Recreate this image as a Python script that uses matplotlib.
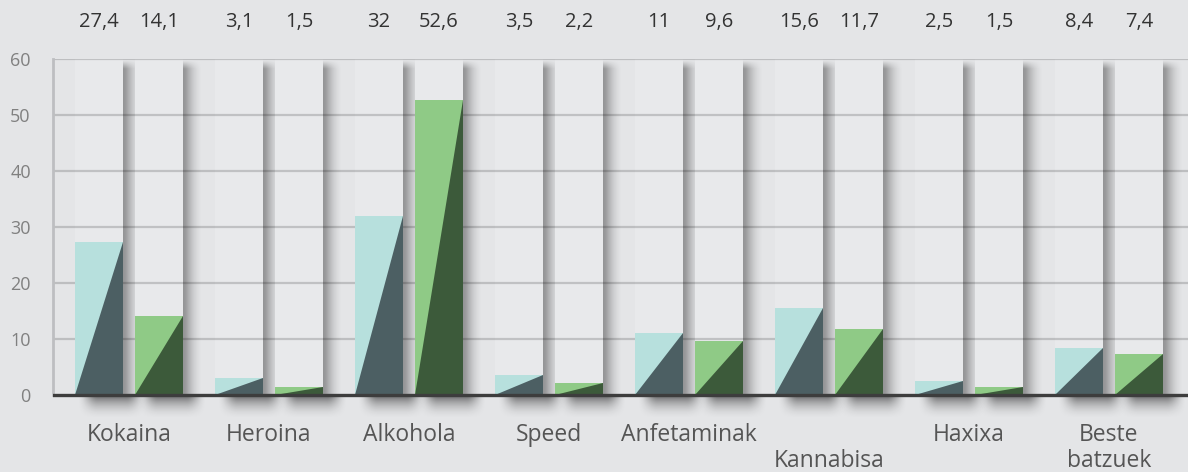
import matplotlib
matplotlib.use("Agg")
import matplotlib.pyplot as plt
import numpy as np
from matplotlib.patches import Polygon, Rectangle

# data
categories = ["Kokaina", "Heroina", "Alkohola", "Speed", "Anfetaminak",
              "\nKannabisa", "Haxixa", "Beste\nbatzuek"]
series_a = [27.4, 3.1, 32, 3.5, 11, 15.6, 2.5, 8.4]
series_b = [14.1, 1.5, 52.6, 2.2, 9.6, 11.7, 1.5, 7.4]
y_ticks = [0, 10, 20, 30, 40, 50, 60]

# style
BG = "#e4e5e7"
COLUMN = "#e8e9eb"
LIGHT = ["#b7e0dd", "#8fca86"]
DARK = ["#4c5f63", "#3c5a3a"]
W, H = 1188, 472
PX_X = 140.0   # pixels per category
PX_Y = 5.6     # pixels per unit
BAR_W = 48 / PX_X
OFFSET = 30 / PX_X

plt.rcParams["font.family"] = ["Open Sans", "DejaVu Sans"]

fig = plt.figure(figsize=(W / 100, H / 100), dpi=100, facecolor=BG)
ax = fig.add_axes([53 / W, (H - 417) / H, (W - 53) / W, (417 - 59) / H])
ax.set_facecolor(BG)


def fmt(v):
    return f"{v:g}".replace(".", ",")


def side_shadow(x, width):
    nx, ny = 64, 120
    t = np.linspace(0, 1, nx)
    fx = 0.42 * (1 - t) ** 1.8 * (0.85 + 0.15 * np.clip(t / 0.15, 0, 1))
    depth = np.linspace(0, 60, ny)  # distance from the top, in units
    fy = np.clip(depth / 1.5, 0, 1)
    rgba = np.zeros((ny, nx, 4))
    rgba[..., 3] = np.outer(fy, fx)
    ax.imshow(rgba, extent=[x, x + width, 0, 60], aspect="auto",
              interpolation="bilinear", zorder=1, origin="upper")


def floor_shadow(x0, x1):
    nx, ny = 80, 40
    tx = np.linspace(0, 1, nx)
    ty = np.linspace(0, 1, ny)
    edge = 0.3
    fx = np.clip(np.minimum(tx, 1 - tx) / edge, 0, 1)
    fx = fx * fx * (3 - 2 * fx)
    fy = (1 - ty) ** 2.0
    rgba = np.zeros((ny, nx, 4))
    rgba[..., 3] = 0.55 * np.outer(fy, fx)
    ax.imshow(rgba, extent=[x0, x1, -25 / PX_Y, 0], aspect="auto",
              interpolation="bilinear", zorder=1, origin="upper")


for s, values in enumerate([series_a, series_b]):
    for i, v in enumerate(values):
        xc = i + (OFFSET if s else -OFFSET)
        x0, x1 = xc - BAR_W / 2, xc + BAR_W / 2
        ax.add_patch(Rectangle((x0, 0), BAR_W, 60, color=COLUMN, lw=0, zorder=1.2))
        side_shadow(x1, 20 / PX_X)
        floor_shadow(x0 + 2 / PX_X, x1 + 24 / PX_X)
        ax.add_patch(Rectangle((x0, 0), BAR_W, v, color=LIGHT[s], lw=0, zorder=3))
        ax.add_patch(Polygon([(x0, 0), (x1, 0), (x1, v)], closed=True,
                             color=DARK[s], lw=0, zorder=3.1))
        ax.text(xc, (395 - 22) / PX_Y, fmt(v), ha="center", va="center",
                fontsize=14.5, color="#333333")

for i, cat in enumerate(categories):
    ax.text(i, -(423 - 395) / PX_Y, cat, ha="center", va="top", fontsize=16.5,
            color="#555555", linespacing=1.12)

for y in y_ticks[1:]:
    ax.axhline(y, color="black", alpha=0.17, lw=1.6, zorder=2)
ax.axhline(0, color="#3d3d3d", lw=2.4, zorder=4)

ax.set_xlim(-(129 - 53) / PX_X, (W - 129) / PX_X)
ax.set_ylim(-22 / PX_Y, 60)
for side in ["top", "right", "bottom"]:
    ax.spines[side].set_visible(False)
ax.spines["left"].set_bounds(0, 60)
ax.spines["left"].set_color("#bdbec1")
ax.spines["left"].set_linewidth(2)
ax.set_xticks([])
ax.set_yticks(y_ticks)
ax.tick_params(axis="y", length=0, pad=16, labelsize=13, labelcolor="#808080")

fig.savefig("out.png", dpi=100, facecolor=BG)
